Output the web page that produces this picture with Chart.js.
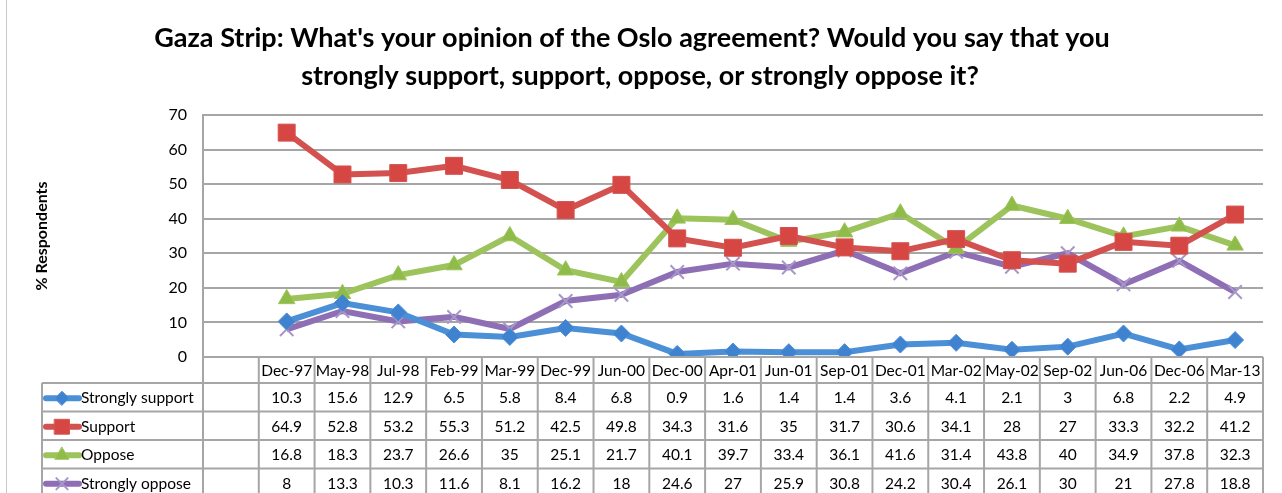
<!DOCTYPE html>
<html>
<head>
<meta charset="utf-8">
<script src="https://cdn.jsdelivr.net/npm/chart.js"></script>
<style>
  html, body { margin: 0; padding: 0; background: #fff; }
  #wrap { width: 1282px; height: 493px; }
</style>
</head>
<body>
<div id="wrap"><canvas id="myChart" width="1282" height="493"></canvas></div>
<script>
// data
const categories = ["Dec-97", "May-98", "Jul-98", "Feb-99", "Mar-99", "Dec-99", "Jun-00", "Dec-00", "Apr-01",
  "Jun-01", "Sep-01", "Dec-01", "Mar-02", "May-02", "Sep-02", "Jun-06", "Dec-06", "Mar-13"];
const stronglySupport = [10.3, 15.6, 12.9, 6.5, 5.8, 8.4, 6.8, 0.9, 1.6, 1.4, 1.4, 3.6, 4.1, 2.1, 3, 6.8, 2.2, 4.9];
const support = [64.9, 52.8, 53.2, 55.3, 51.2, 42.5, 49.8, 34.3, 31.6, 35, 31.7, 30.6, 34.1, 28, 27, 33.3, 32.2, 41.2];
const oppose = [16.8, 18.3, 23.7, 26.6, 35, 25.1, 21.7, 40.1, 39.7, 33.4, 36.1, 41.6, 31.4, 43.8, 40, 34.9, 37.8, 32.3];
const stronglyOppose = [8, 13.3, 10.3, 11.6, 8.1, 16.2, 18, 24.6, 27, 25.9, 30.8, 24.2, 30.4, 26.1, 30, 21, 27.8, 18.8];
const yTicks = [0, 10, 20, 30, 40, 50, 60, 70];
const titleLines = ["Gaza Strip: What's your opinion of the Oslo agreement? Would you say that you",
  "strongly support, support, oppose, or strongly oppose it?"];

const FONT = "Lato, 'Open Sans', sans-serif";
const gridGray = "#a6a6a6";

// first column of the table is blank, like in the excel sheet
const labels = [""].concat(categories);

function makeSeries(name, values, color, markColor, style, radius) {
  return {
    label: name,
    data: [null].concat(values),
    raw: values,
    borderColor: color,
    backgroundColor: markColor,
    pointBackgroundColor: markColor,
    pointBorderColor: style === "crossRot" ? markColor : color,
    pointBorderWidth: style === "crossRot" ? 2 : 1,
    pointStyle: style,
    pointRadius: radius,
    pointHoverRadius: radius,
    borderWidth: 6,
    tension: 0,
    spanGaps: false
  };
}

const datasets = [
  makeSeries("Strongly support", stronglySupport, "#4b8fd6", "#3f82d0", "rectRot", 8.5),
  makeSeries("Support", support, "#d3524f", "#d64744", "rect", 12),
  makeSeries("Oppose", oppose, "#9dc45c", "#8fbb48", "triangle", 9.5),
  makeSeries("Strongly oppose", stronglyOppose, "#8e6fb5", "#a797c8", "crossRot", 9.5)
];

// title, drawn by hand so it sits where the excel one does
const titlePlugin = {
  id: "bigTitle",
  afterDraw(chart) {
    const ctx = chart.ctx;
    ctx.save();
    ctx.fillStyle = "#000";
    ctx.font = "bold 27px " + FONT;
    ctx.textAlign = "center";
    ctx.textBaseline = "alphabetic";
    ctx.fillText(titleLines[0], 632, 47);
    ctx.fillText(titleLines[1], 640, 85);
    ctx.restore();
  }
};

// draws the data table under the plot
const tablePlugin = {
  id: "dataTable",
  afterDraw(chart) {
    const ctx = chart.ctx;
    const x = chart.scales.x;
    const area = chart.chartArea;
    const n = chart.data.labels.length;
    const colW = (area.right - area.left) / n;
    const legendLeft = 42;
    const headTop = area.bottom;
    const headH = 26;
    const rowH = 28.5;

    ctx.save();
    // thin frame line on the far left
    ctx.strokeStyle = "#c8c8c8";
    ctx.lineWidth = 1;
    ctx.beginPath();
    ctx.moveTo(6.5, 0);
    ctx.lineTo(6.5, chart.height);
    ctx.stroke();

    ctx.strokeStyle = gridGray;
    ctx.lineWidth = 2;
    // horizontal lines
    ctx.beginPath();
    ctx.moveTo(area.left, headTop);
    ctx.lineTo(area.right, headTop);
    for (let r = 0; r <= chart.data.datasets.length; r++) {
      const y = headTop + headH + r * rowH;
      ctx.moveTo(legendLeft, y);
      ctx.lineTo(area.right, y);
    }
    // vertical lines
    for (let i = 0; i <= n; i++) {
      const xx = area.left + i * colW;
      ctx.moveTo(xx, headTop);
      ctx.lineTo(xx, chart.height);
    }
    ctx.moveTo(legendLeft, headTop + headH);
    ctx.lineTo(legendLeft, chart.height);
    ctx.stroke();

    ctx.fillStyle = "#000";
    ctx.font = "15.5px " + FONT;
    ctx.textAlign = "center";
    ctx.textBaseline = "middle";
    for (let i = 1; i < n; i++) {
      ctx.fillText(chart.data.labels[i], x.getPixelForValue(i), headTop + headH / 2 + 1);
    }

    chart.data.datasets.forEach((ds, r) => {
      const cy = headTop + headH + r * rowH + rowH / 2 + 1;
      ds.raw.forEach((v, j) => {
        ctx.textAlign = "center";
        ctx.fillText(String(v), x.getPixelForValue(j + 1), cy);
      });
      // legend key
      ctx.strokeStyle = ds.borderColor;
      ctx.lineWidth = 6;
      ctx.lineCap = "round";
      ctx.beginPath();
      ctx.moveTo(46, cy);
      ctx.lineTo(79, cy);
      ctx.stroke();
      ctx.fillStyle = ds.pointBackgroundColor;
      ctx.strokeStyle = ds.pointBorderColor;
      ctx.lineWidth = ds.pointBorderWidth;
      Chart.helpers.drawPoint(ctx, { pointStyle: ds.pointStyle, radius: ds.pointRadius - 1.5, rotation: 0, borderWidth: ds.pointBorderWidth }, 62, cy);
      ctx.fillStyle = "#000";
      ctx.textAlign = "left";
      ctx.fillText(ds.label, 81, cy);
    });
    ctx.restore();
  }
};

new Chart("myChart", {
  type: "line",
  data: { labels: labels, datasets: datasets },
  options: {
    responsive: false,
    animation: false,
    layout: { padding: { left: 22, right: 19, top: 115, bottom: 136 } },
    plugins: {
      legend: { display: false },
      tooltip: { enabled: false },
      title: { display: false }
    },
    scales: {
      x: {
        type: "category",
        offset: true,
        display: false
      },
      y: {
        min: 0,
        max: 70,
        afterBuildTicks(scale) {
          scale.ticks = yTicks.map((v) => ({ value: v }));
        },
        afterFit(scale) {
          scale.width = 203 - 22;
        },
        grid: { color: gridGray, lineWidth: 2, drawTicks: false },
        border: { display: true, color: gridGray, width: 2 },
        ticks: {
          color: "#000",
          padding: 16,
          font: { family: FONT, size: 16 }
        },
        title: {
          display: true,
          text: "% Respondents",
          color: "#000",
          font: { family: FONT, size: 16, weight: "bold" },
          padding: { top: 10, bottom: 0 }
        }
      }
    }
  },
  plugins: [titlePlugin, tablePlugin]
});
</script>
</body>
</html>
